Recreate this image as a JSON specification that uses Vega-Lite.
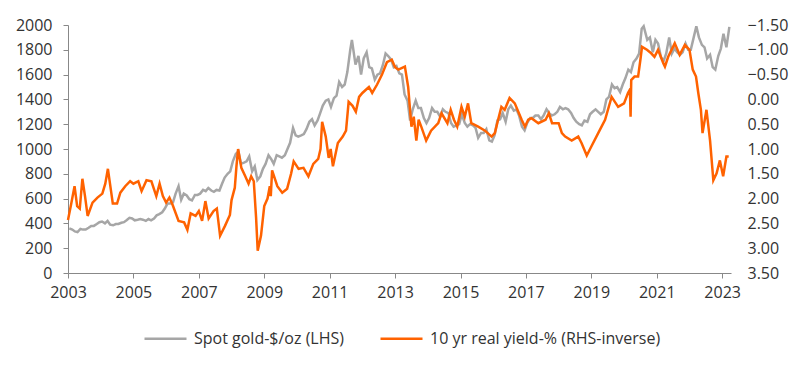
{
  "$schema": "https://vega.github.io/schema/vega-lite/v6.json",
  "width": 663,
  "height": 248,
  "autosize": {"type": "none"},
  "padding": {"left": 68, "top": 25, "right": 69, "bottom": 95},
  "background": "white",
  "config": {
    "view": {"stroke": null},
    "font": "Open Sans",
    "axis": {"labelFont": "Open Sans", "labelColor": "#333333", "labelFontSize": 16, "grid": false, "title": null},
    "legend": {"labelFont": "Open Sans", "labelColor": "#333333", "labelFontSize": 16, "labelLimit": 400}
  },
  "datasets": {
    "gold": [
      {"t": 2003.04, "v": 360}, {"t": 2003.13, "v": 350}, {"t": 2003.21, "v": 335}, {"t": 2003.29, "v": 330}, {"t": 2003.38, "v": 355}, {"t": 2003.46, "v": 350}, {"t": 2003.54, "v": 350}, {"t": 2003.63, "v": 365}, {"t": 2003.71, "v": 380}, {"t": 2003.79, "v": 380}, {"t": 2003.88, "v": 395}, {"t": 2003.96, "v": 410},
      {"t": 2004.04, "v": 415}, {"t": 2004.13, "v": 400}, {"t": 2004.21, "v": 420}, {"t": 2004.29, "v": 390}, {"t": 2004.38, "v": 385}, {"t": 2004.46, "v": 395}, {"t": 2004.54, "v": 395}, {"t": 2004.63, "v": 405}, {"t": 2004.71, "v": 410}, {"t": 2004.79, "v": 425}, {"t": 2004.88, "v": 445}, {"t": 2004.96, "v": 440},
      {"t": 2005.04, "v": 425}, {"t": 2005.13, "v": 430}, {"t": 2005.21, "v": 435}, {"t": 2005.29, "v": 430}, {"t": 2005.38, "v": 420}, {"t": 2005.46, "v": 435}, {"t": 2005.54, "v": 425}, {"t": 2005.63, "v": 440}, {"t": 2005.71, "v": 465}, {"t": 2005.79, "v": 475}, {"t": 2005.88, "v": 490}, {"t": 2005.96, "v": 520},
      {"t": 2006.04, "v": 560}, {"t": 2006.13, "v": 560}, {"t": 2006.21, "v": 570}, {"t": 2006.29, "v": 640}, {"t": 2006.38, "v": 700}, {"t": 2006.46, "v": 590}, {"t": 2006.54, "v": 640}, {"t": 2006.63, "v": 625}, {"t": 2006.71, "v": 595}, {"t": 2006.79, "v": 585}, {"t": 2006.88, "v": 630}, {"t": 2006.96, "v": 630},
      {"t": 2007.04, "v": 640}, {"t": 2007.13, "v": 670}, {"t": 2007.21, "v": 660}, {"t": 2007.29, "v": 685}, {"t": 2007.38, "v": 665}, {"t": 2007.46, "v": 655}, {"t": 2007.54, "v": 670}, {"t": 2007.63, "v": 665}, {"t": 2007.71, "v": 720}, {"t": 2007.79, "v": 770}, {"t": 2007.88, "v": 800}, {"t": 2007.96, "v": 820},
      {"t": 2008.04, "v": 900}, {"t": 2008.13, "v": 960}, {"t": 2008.21, "v": 980}, {"t": 2008.29, "v": 880}, {"t": 2008.38, "v": 890}, {"t": 2008.46, "v": 900}, {"t": 2008.54, "v": 940}, {"t": 2008.63, "v": 820}, {"t": 2008.71, "v": 860}, {"t": 2008.79, "v": 750}, {"t": 2008.88, "v": 780}, {"t": 2008.96, "v": 840},
      {"t": 2009.04, "v": 880}, {"t": 2009.13, "v": 950}, {"t": 2009.21, "v": 920}, {"t": 2009.29, "v": 880}, {"t": 2009.38, "v": 950}, {"t": 2009.46, "v": 940}, {"t": 2009.54, "v": 930}, {"t": 2009.63, "v": 950}, {"t": 2009.71, "v": 1000}, {"t": 2009.79, "v": 1050}, {"t": 2009.88, "v": 1170}, {"t": 2009.96, "v": 1110},
      {"t": 2010.04, "v": 1100}, {"t": 2010.13, "v": 1110}, {"t": 2010.21, "v": 1120}, {"t": 2010.29, "v": 1160}, {"t": 2010.38, "v": 1220}, {"t": 2010.46, "v": 1240}, {"t": 2010.54, "v": 1190}, {"t": 2010.63, "v": 1230}, {"t": 2010.71, "v": 1290}, {"t": 2010.79, "v": 1350}, {"t": 2010.88, "v": 1390}, {"t": 2010.96, "v": 1400},
      {"t": 2011.04, "v": 1340}, {"t": 2011.13, "v": 1410}, {"t": 2011.21, "v": 1430}, {"t": 2011.29, "v": 1540}, {"t": 2011.38, "v": 1500}, {"t": 2011.46, "v": 1520}, {"t": 2011.54, "v": 1620}, {"t": 2011.63, "v": 1800}, {"t": 2011.68, "v": 1880}, {"t": 2011.79, "v": 1680}, {"t": 2011.88, "v": 1750}, {"t": 2011.96, "v": 1600},
      {"t": 2012.04, "v": 1730}, {"t": 2012.13, "v": 1780}, {"t": 2012.21, "v": 1660}, {"t": 2012.29, "v": 1650}, {"t": 2012.38, "v": 1560}, {"t": 2012.46, "v": 1600}, {"t": 2012.54, "v": 1610}, {"t": 2012.63, "v": 1680}, {"t": 2012.71, "v": 1770}, {"t": 2012.79, "v": 1750}, {"t": 2012.88, "v": 1720}, {"t": 2012.96, "v": 1660},
      {"t": 2013.04, "v": 1670}, {"t": 2013.13, "v": 1610}, {"t": 2013.21, "v": 1600}, {"t": 2013.29, "v": 1440}, {"t": 2013.38, "v": 1390}, {"t": 2013.46, "v": 1230}, {"t": 2013.54, "v": 1320}, {"t": 2013.63, "v": 1390}, {"t": 2013.71, "v": 1330}, {"t": 2013.79, "v": 1330}, {"t": 2013.88, "v": 1250}, {"t": 2013.96, "v": 1210},
      {"t": 2014.04, "v": 1250}, {"t": 2014.13, "v": 1330}, {"t": 2014.21, "v": 1300}, {"t": 2014.29, "v": 1300}, {"t": 2014.38, "v": 1260}, {"t": 2014.46, "v": 1320}, {"t": 2014.54, "v": 1300}, {"t": 2014.63, "v": 1290}, {"t": 2014.71, "v": 1210}, {"t": 2014.79, "v": 1180}, {"t": 2014.88, "v": 1190}, {"t": 2014.96, "v": 1200},
      {"t": 2015.04, "v": 1280}, {"t": 2015.13, "v": 1210}, {"t": 2015.21, "v": 1180}, {"t": 2015.29, "v": 1200}, {"t": 2015.38, "v": 1190}, {"t": 2015.46, "v": 1170}, {"t": 2015.54, "v": 1090}, {"t": 2015.63, "v": 1130}, {"t": 2015.71, "v": 1130}, {"t": 2015.79, "v": 1160}, {"t": 2015.88, "v": 1070}, {"t": 2015.96, "v": 1060},
      {"t": 2016.04, "v": 1110}, {"t": 2016.13, "v": 1230}, {"t": 2016.21, "v": 1240}, {"t": 2016.29, "v": 1290}, {"t": 2016.38, "v": 1220}, {"t": 2016.46, "v": 1320}, {"t": 2016.54, "v": 1350}, {"t": 2016.63, "v": 1310}, {"t": 2016.71, "v": 1320}, {"t": 2016.79, "v": 1270}, {"t": 2016.88, "v": 1180}, {"t": 2016.96, "v": 1150},
      {"t": 2017.04, "v": 1210}, {"t": 2017.13, "v": 1250}, {"t": 2017.21, "v": 1250}, {"t": 2017.29, "v": 1270}, {"t": 2017.38, "v": 1270}, {"t": 2017.46, "v": 1240}, {"t": 2017.54, "v": 1270}, {"t": 2017.63, "v": 1320}, {"t": 2017.71, "v": 1290}, {"t": 2017.79, "v": 1270}, {"t": 2017.88, "v": 1280}, {"t": 2017.96, "v": 1300},
      {"t": 2018.04, "v": 1340}, {"t": 2018.13, "v": 1320}, {"t": 2018.21, "v": 1330}, {"t": 2018.29, "v": 1320}, {"t": 2018.38, "v": 1290}, {"t": 2018.46, "v": 1250}, {"t": 2018.54, "v": 1220}, {"t": 2018.63, "v": 1200}, {"t": 2018.71, "v": 1190}, {"t": 2018.79, "v": 1230}, {"t": 2018.88, "v": 1220}, {"t": 2018.96, "v": 1280},
      {"t": 2019.04, "v": 1300}, {"t": 2019.13, "v": 1320}, {"t": 2019.21, "v": 1300}, {"t": 2019.29, "v": 1280}, {"t": 2019.38, "v": 1300}, {"t": 2019.46, "v": 1400}, {"t": 2019.54, "v": 1420}, {"t": 2019.63, "v": 1520}, {"t": 2019.71, "v": 1490}, {"t": 2019.79, "v": 1500}, {"t": 2019.88, "v": 1460}, {"t": 2019.96, "v": 1520},
      {"t": 2020.04, "v": 1570}, {"t": 2020.13, "v": 1640}, {"t": 2020.21, "v": 1620}, {"t": 2020.29, "v": 1700}, {"t": 2020.38, "v": 1730}, {"t": 2020.46, "v": 1770}, {"t": 2020.54, "v": 1970}, {"t": 2020.6, "v": 1990}, {"t": 2020.71, "v": 1880}, {"t": 2020.79, "v": 1900}, {"t": 2020.88, "v": 1780}, {"t": 2020.96, "v": 1880},
      {"t": 2021.04, "v": 1850}, {"t": 2021.13, "v": 1740}, {"t": 2021.21, "v": 1710}, {"t": 2021.29, "v": 1770}, {"t": 2021.38, "v": 1900}, {"t": 2021.46, "v": 1770}, {"t": 2021.54, "v": 1810}, {"t": 2021.63, "v": 1780}, {"t": 2021.71, "v": 1760}, {"t": 2021.79, "v": 1780}, {"t": 2021.88, "v": 1850}, {"t": 2021.96, "v": 1800},
      {"t": 2022.04, "v": 1800}, {"t": 2022.13, "v": 1900}, {"t": 2022.21, "v": 1990}, {"t": 2022.29, "v": 1900}, {"t": 2022.38, "v": 1840}, {"t": 2022.46, "v": 1820}, {"t": 2022.54, "v": 1730}, {"t": 2022.63, "v": 1760}, {"t": 2022.71, "v": 1660}, {"t": 2022.79, "v": 1640}, {"t": 2022.88, "v": 1750}, {"t": 2022.96, "v": 1810},
      {"t": 2023.04, "v": 1930}, {"t": 2023.13, "v": 1820}, {"t": 2023.22, "v": 1985}
    ],
    "yield": [
      {"t": 2003.0, "v": 2.43}, {"t": 2003.1, "v": 2.1}, {"t": 2003.2, "v": 1.75}, {"t": 2003.28, "v": 2.15}, {"t": 2003.36, "v": 2.2}, {"t": 2003.44, "v": 1.6}, {"t": 2003.52, "v": 1.95}, {"t": 2003.6, "v": 2.35}, {"t": 2003.75, "v": 2.08}, {"t": 2003.9, "v": 1.98}, {"t": 2004.05, "v": 1.9}, {"t": 2004.14, "v": 1.7}, {"t": 2004.22, "v": 1.4}, {"t": 2004.37, "v": 2.1}, {"t": 2004.5, "v": 2.1}, {"t": 2004.6, "v": 1.88}, {"t": 2004.75, "v": 1.75}, {"t": 2004.9, "v": 1.65},
      {"t": 2005.0, "v": 1.7}, {"t": 2005.15, "v": 1.65}, {"t": 2005.25, "v": 1.85}, {"t": 2005.4, "v": 1.63}, {"t": 2005.55, "v": 1.65}, {"t": 2005.7, "v": 1.95}, {"t": 2005.8, "v": 1.7}, {"t": 2005.9, "v": 1.95}, {"t": 2006.0, "v": 2.08}, {"t": 2006.1, "v": 1.98}, {"t": 2006.2, "v": 2.13}, {"t": 2006.38, "v": 2.45}, {"t": 2006.55, "v": 2.48}, {"t": 2006.65, "v": 2.63}, {"t": 2006.75, "v": 2.3}, {"t": 2006.9, "v": 2.35},
      {"t": 2007.0, "v": 2.25}, {"t": 2007.1, "v": 2.45}, {"t": 2007.2, "v": 2.05}, {"t": 2007.3, "v": 2.4}, {"t": 2007.45, "v": 2.25}, {"t": 2007.55, "v": 2.2}, {"t": 2007.65, "v": 2.75}, {"t": 2007.8, "v": 2.55}, {"t": 2007.95, "v": 2.33}, {"t": 2008.0, "v": 2.03}, {"t": 2008.1, "v": 1.78}, {"t": 2008.15, "v": 1.35}, {"t": 2008.2, "v": 1.0}, {"t": 2008.3, "v": 1.38}, {"t": 2008.42, "v": 1.55}, {"t": 2008.52, "v": 1.7}, {"t": 2008.6, "v": 1.55}, {"t": 2008.68, "v": 1.65}, {"t": 2008.75, "v": 2.38}, {"t": 2008.8, "v": 3.05}, {"t": 2008.9, "v": 2.75}, {"t": 2009.0, "v": 2.15},
      {"t": 2009.1, "v": 2.0}, {"t": 2009.17, "v": 1.75}, {"t": 2009.2, "v": 1.95}, {"t": 2009.24, "v": 1.43}, {"t": 2009.4, "v": 1.75}, {"t": 2009.55, "v": 1.88}, {"t": 2009.7, "v": 1.8}, {"t": 2009.82, "v": 1.5}, {"t": 2009.9, "v": 1.25}, {"t": 2010.05, "v": 1.4}, {"t": 2010.2, "v": 1.38}, {"t": 2010.35, "v": 1.55}, {"t": 2010.5, "v": 1.3}, {"t": 2010.65, "v": 1.2}, {"t": 2010.72, "v": 1.0}, {"t": 2010.77, "v": 0.45}, {"t": 2010.88, "v": 0.75}, {"t": 2010.97, "v": 1.18}, {"t": 2011.03, "v": 1.0}, {"t": 2011.1, "v": 1.35}, {"t": 2011.25, "v": 0.88}, {"t": 2011.4, "v": 0.75}, {"t": 2011.5, "v": 0.63}, {"t": 2011.58, "v": 0.05}, {"t": 2011.7, "v": 0.13}, {"t": 2011.8, "v": 0.25}, {"t": 2011.9, "v": -0.05},
      {"t": 2012.0, "v": -0.13}, {"t": 2012.2, "v": -0.25}, {"t": 2012.3, "v": -0.13}, {"t": 2012.45, "v": -0.3}, {"t": 2012.6, "v": -0.5}, {"t": 2012.75, "v": -0.75}, {"t": 2012.9, "v": -0.8}, {"t": 2013.0, "v": -0.65}, {"t": 2013.1, "v": -0.6}, {"t": 2013.3, "v": -0.66}, {"t": 2013.4, "v": -0.25}, {"t": 2013.5, "v": 0.55}, {"t": 2013.57, "v": 0.35}, {"t": 2013.65, "v": 0.83}, {"t": 2013.72, "v": 0.41}, {"t": 2013.8, "v": 0.55}, {"t": 2013.95, "v": 0.83},
      {"t": 2014.1, "v": 0.63}, {"t": 2014.32, "v": 0.48}, {"t": 2014.42, "v": 0.28}, {"t": 2014.6, "v": 0.48}, {"t": 2014.7, "v": 0.21}, {"t": 2014.8, "v": 0.41}, {"t": 2014.9, "v": 0.55}, {"t": 2015.03, "v": 0.15}, {"t": 2015.13, "v": 0.35}, {"t": 2015.23, "v": 0.08}, {"t": 2015.33, "v": 0.48}, {"t": 2015.54, "v": 0.55}, {"t": 2015.75, "v": 0.63}, {"t": 2015.95, "v": 0.75}, {"t": 2016.05, "v": 0.68}, {"t": 2016.15, "v": 0.41}, {"t": 2016.25, "v": 0.15}, {"t": 2016.35, "v": 0.21}, {"t": 2016.5, "v": -0.03}, {"t": 2016.66, "v": 0.08}, {"t": 2016.87, "v": 0.41}, {"t": 2016.97, "v": 0.55},
      {"t": 2017.07, "v": 0.41}, {"t": 2017.17, "v": 0.38}, {"t": 2017.38, "v": 0.48}, {"t": 2017.6, "v": 0.41}, {"t": 2017.7, "v": 0.28}, {"t": 2017.8, "v": 0.48}, {"t": 2018.0, "v": 0.48}, {"t": 2018.1, "v": 0.68}, {"t": 2018.2, "v": 0.75}, {"t": 2018.4, "v": 0.83}, {"t": 2018.6, "v": 0.75}, {"t": 2018.7, "v": 0.88}, {"t": 2018.86, "v": 1.13}, {"t": 2019.0, "v": 0.95}, {"t": 2019.21, "v": 0.68}, {"t": 2019.42, "v": 0.41}, {"t": 2019.62, "v": -0.05}, {"t": 2019.82, "v": 0.15},
      {"t": 2020.0, "v": 0.08}, {"t": 2020.12, "v": -0.13}, {"t": 2020.18, "v": -0.2}, {"t": 2020.2, "v": 0.35}, {"t": 2020.22, "v": -0.39}, {"t": 2020.32, "v": -0.46}, {"t": 2020.43, "v": -0.46}, {"t": 2020.5, "v": -0.8}, {"t": 2020.55, "v": -1.06}, {"t": 2020.7, "v": -1.0}, {"t": 2020.83, "v": -0.93}, {"t": 2020.93, "v": -0.86}, {"t": 2021.04, "v": -1.0}, {"t": 2021.2, "v": -0.73}, {"t": 2021.25, "v": -0.66}, {"t": 2021.35, "v": -0.86}, {"t": 2021.55, "v": -1.13}, {"t": 2021.7, "v": -0.9}, {"t": 2021.86, "v": -1.1},
      {"t": 2022.0, "v": -1.0}, {"t": 2022.1, "v": -0.6}, {"t": 2022.2, "v": -0.46}, {"t": 2022.27, "v": -0.13}, {"t": 2022.35, "v": 0.21}, {"t": 2022.4, "v": 0.68}, {"t": 2022.52, "v": 0.21}, {"t": 2022.63, "v": 0.83}, {"t": 2022.73, "v": 1.63}, {"t": 2022.83, "v": 1.49}, {"t": 2022.93, "v": 1.23}, {"t": 2023.03, "v": 1.55}, {"t": 2023.13, "v": 1.15}, {"t": 2023.2, "v": 1.15}
    ]
  },
  "layer": [
    {
      "data": {"name": "gold"},
      "mark": {"type": "line", "strokeWidth": 2.5, "clip": false},
      "encoding": {
        "x": {
          "field": "t", "type": "quantitative",
          "scale": {"domain": [2003, 2023.27], "nice": false, "zero": false},
          "axis": {"values": [2003, 2005, 2007, 2009, 2011, 2013, 2015, 2017, 2019, 2021, 2023], "format": "d", "domainColor": "#888888", "tickColor": "#888888", "tickSize": 5, "labelPadding": 6, "labelFlush": false}
        },
        "y": {
          "field": "v", "type": "quantitative",
          "scale": {"domain": [0, 2000], "nice": false},
          "axis": {"orient": "left", "values": [0, 200, 400, 600, 800, 1000, 1200, 1400, 1600, 1800, 2000], "format": "d", "domainColor": "#888888", "tickColor": "#888888", "tickSize": 5, "labelPadding": 11}
        },
        "color": {"datum": "Spot gold-$/oz (LHS)", "type": "nominal",
          "scale": {"domain": ["Spot gold-$/oz (LHS)", "10 yr real yield-% (RHS-inverse)"], "range": ["#a6a6a6", "#ff6200"]},
          "legend": {"orient": "none", "legendX": 75, "legendY": 291, "direction": "horizontal", "title": null, "symbolType": "stroke", "symbolStrokeWidth": 2.5, "symbolSize": 1764, "labelOffset": 6, "columnPadding": 31}
        }
      }
    },
    {
      "data": {"name": "yield"},
      "mark": {"type": "line", "strokeWidth": 2.5, "clip": false},
      "encoding": {
        "x": {"field": "t", "type": "quantitative"},
        "y": {
          "field": "v", "type": "quantitative",
          "scale": {"domain": [-1.5, 3.5], "reverse": true, "nice": false, "zero": false},
          "axis": {"orient": "right", "values": [-1.5, -1, -0.5, 0, 0.5, 1, 1.5, 2, 2.5, 3, 3.5], "format": ".2f", "domain": false, "ticks": false, "labelPadding": 16}
        },
        "color": {"datum": "10 yr real yield-% (RHS-inverse)", "type": "nominal"}
      }
    }
  ],
  "resolve": {"scale": {"y": "independent"}}
}
